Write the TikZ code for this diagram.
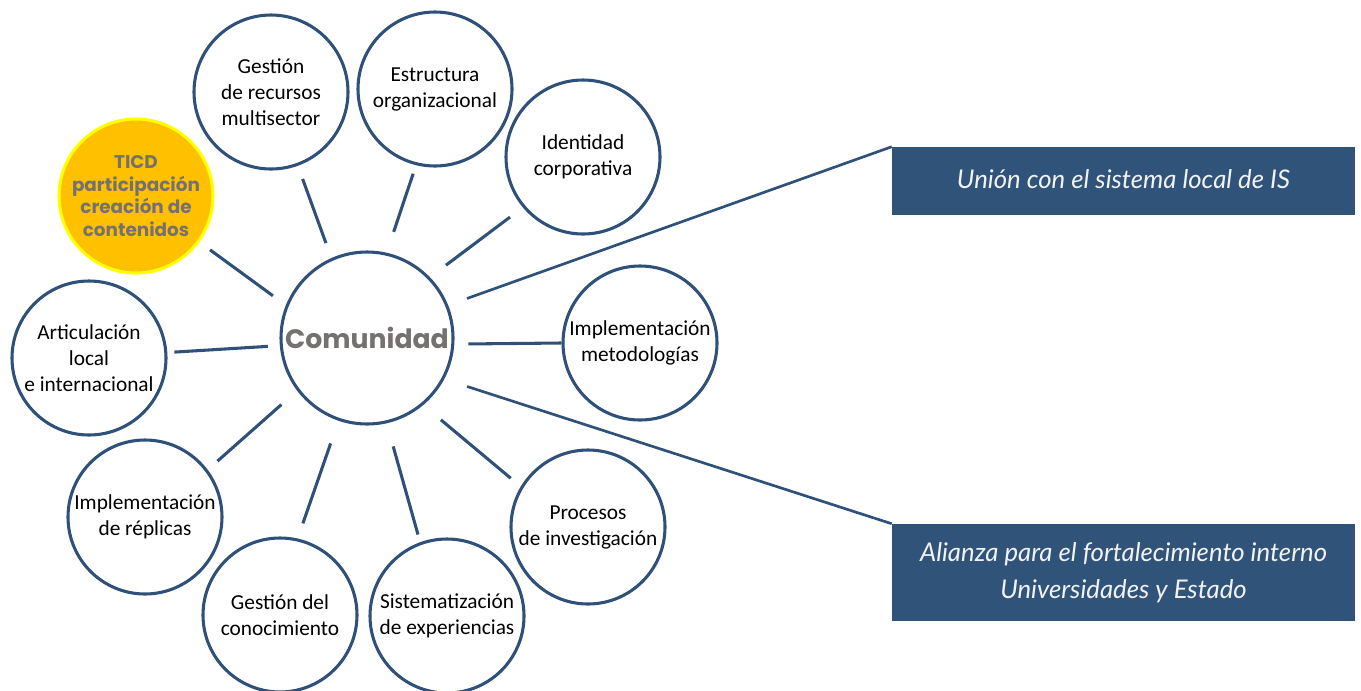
\documentclass[tikz,border=0pt]{standalone}
\usepackage{fontspec}
\setmainfont{Carlito}
\newfontfamily\popfont{Poppins}
\newfontfamily\latofont{Lato}
\definecolor{ringblue}{RGB}{47,80,120}
\definecolor{boxblue}{RGB}{48,83,122}
\definecolor{ticdorange}{RGB}{255,192,0}
\definecolor{ticdyellow}{RGB}{255,255,0}
\definecolor{softgray}{RGB}{118,113,113}
\definecolor{boxtext}{RGB}{242,242,242}
\begin{document}
\begin{tikzpicture}[x=0.75pt,y=-0.75pt,
  bub/.style={circle,draw=ringblue,line width=2.3pt,fill=white,minimum size=115.5pt,inner sep=0pt,align=center,text=black,font=\fontsize{16}{19.5}\selectfont},
  hub/.style={bub,minimum size=129pt,text=softgray,font=\popfont\bfseries\fontsize{20}{24}\selectfont},
  hot/.style={bub,draw=ticdyellow,fill=ticdorange,text=softgray,font=\popfont\bfseries\fontsize{13.8}{17}\selectfont},
  spoke/.style={draw=ringblue,line width=2.3pt},
  tie/.style={draw=ringblue,line width=2pt},
  ibox/.style={rectangle,fill=boxblue,text=boxtext,align=center,inner sep=0pt,minimum width=347.25pt,font=\latofont\itshape\fontsize{19.3}{27.75}\selectfont}]
\useasboundingbox (0,0) rectangle (1361,690);

\node[hub] (comm) at (367,338) {Comunidad};
\node[bub] (ges) at (271,92) {\raisebox{4pt}{\parbox{100pt}{\centering Gestión\\de recursos\\multisector}}};
\node[bub] (est) at (435,89) {\raisebox{3pt}{\parbox{100pt}{\centering Estructura\\organizacional}}};
\node[bub] (ide) at (583,157) {Identidad\\corporativa};
\node[bub] (met) at (640,343) {\raisebox{-3pt}{\parbox{110pt}{\centering Implementación\\metodologías}}};
\node[bub] (pro) at (588,527) {Procesos\\de investigación};
\node[bub] (sis) at (447,616) {Sistematización\\de experiencias};
\node[bub] (gco) at (280,615) {Gestión del\\conocimiento};
\node[bub] (rep) at (145,517) {Implementación\\de réplicas};
\node[bub] (art) at (89,358) {Articulación\\local\\e internacional};
\node[hot] (ticd) at (136,196) {TICD\\participación\\creación de\\contenidos};

\node[ibox,minimum height=51pt] (box1) at (1123.5,181) {\raisebox{3pt}{Unión con el sistema local de IS}};
\node[ibox,minimum height=72.75pt] (box2) at (1123.5,572.5) {Alianza para el fortalecimiento interno\\Universidades y Estado};

\draw[spoke,shorten <=12pt,shorten >=9.75pt] (comm.158.7) -- (ticd.-36);
\draw[spoke,shorten <=12pt,shorten >=10.5pt] (comm.114.3) -- (ges.-70.8);
\draw[spoke,shorten <=16.5pt,shorten >=6.75pt] (comm.77.1) -- (est.-104.8);
\draw[spoke,shorten <=15pt,shorten >=12pt] (comm.44.2) -- (ide.-140.2);
\draw[spoke,shorten <=10.5pt] (comm.-4) -- (met.180);
\draw[spoke,shorten <=9pt,shorten >=5.25pt] (comm.185.8) -- (art.4);
\draw[spoke,shorten <=15.75pt,shorten >=9.75pt] (comm.-143.8) -- (rep.37.3);
\draw[spoke,shorten <=18pt,shorten >=12pt] (comm.-109.6) -- (gco.77);
\draw[spoke,shorten <=18pt,shorten >=6pt] (comm.-77.4) -- (sis.110.6);
\draw[spoke,shorten <=17.25pt,shorten >=9.75pt] (comm.-50.2) -- (pro.149);
\draw[tie,shorten <=15pt] (comm.22.2) -- (box1.north west);
\draw[tie,shorten <=18pt] (comm.-28.2) -- (box2.north west);
\end{tikzpicture}
\end{document}
